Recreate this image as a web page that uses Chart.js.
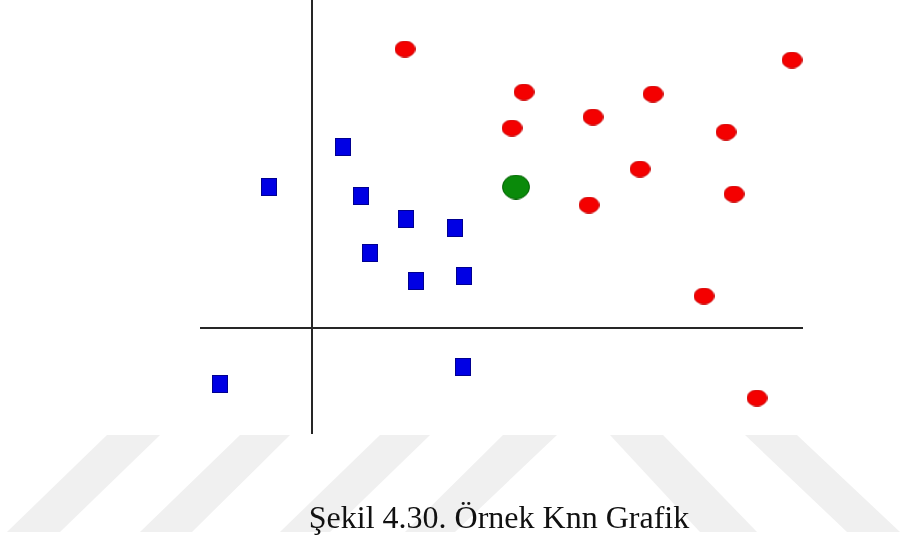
<!DOCTYPE html>
<html>
<head>
<meta charset="utf-8">
<script src="https://cdn.jsdelivr.net/npm/chart.js@4"></script>
<style>
  body { margin: 0; background: #fff; }
  #wrap { position: relative; width: 901px; height: 540px; overflow: hidden; }
  #bg { position: absolute; left: 0; top: 0; }
  #myChart { position: absolute; left: 0; top: 0; }
  #caption {
    position: absolute; left: 0; top: 501px; width: 998px;
    text-align: center; font-family: "Liberation Serif", "DejaVu Serif", serif;
    font-size: 32px; line-height: 32px; color: #111;
  }
</style>
</head>
<body>
<div id="wrap">
  <svg id="bg" width="901" height="540">
    <g fill="#f0f0f0">
      <polygon points="107,435 160,435 60,532 7,532"/>
      <polygon points="240,435 290,435 192,532 140,532"/>
      <polygon points="380,435 430,435 330,532 280,532"/>
      <polygon points="503,435 557,435 455,532 405,532"/>
      <polygon points="610,435 663,435 757,532 700,532"/>
      <polygon points="745,435 797,435 900,532 847,532"/>
    </g>
  </svg>
  <canvas id="myChart" width="901" height="540"></canvas>
  <div id="caption">Şekil 4.30. Örnek Knn Grafik</div>
</div>
<script>
// class A (red), class B (blue), new sample (green)
var redX = [9.3, 48.0, 21.2, 34.1, 20.0, 28.1, 41.4, 32.8, 42.2, 27.7, 39.2, 44.5];
var redY = [27.9, 26.8, 23.6, 23.4, 20.0, 21.1, 19.6, 15.9, 13.4, 12.3, 3.2, -7.0];
var blueX = [3.1, -4.3, 4.9, 9.4, 14.3, 5.8, 10.4, 15.2, -9.2, 15.1];
var blueY = [18.1, 14.1, 13.2, 10.9, 10.0, 7.5, 4.7, 5.2, -5.6, -3.9];
var greenX = [20.4];
var greenY = [14.1];
// the two axis lines
var vAxisX = [0, 0];
var vAxisY = [32.8, -10.6];
var hAxisX = [-11.2, 49.1];
var hAxisY = [0, 0];

function pts(xs, ys) {
  return xs.map(function (x, i) { return {x: x, y: ys[i]}; });
}

function ellipseIcon(w, h, fill, stroke) {
  var c = document.createElement('canvas');
  c.width = w; c.height = h;
  var g = c.getContext('2d');
  g.beginPath();
  g.ellipse(w / 2, h / 2, w / 2 - 0.5, h / 2 - 0.5, 0, 0, Math.PI * 2);
  g.fillStyle = fill; g.fill();
  g.lineWidth = 1; g.strokeStyle = stroke; g.stroke();
  return c;
}

function boxIcon(w, h, fill, stroke) {
  var c = document.createElement('canvas');
  c.width = w; c.height = h;
  var g = c.getContext('2d');
  g.fillStyle = fill; g.fillRect(0, 0, w, h);
  g.lineWidth = 1; g.strokeStyle = stroke; g.strokeRect(0.5, 0.5, w - 1, h - 1);
  return c;
}

var ctx = document.getElementById('myChart').getContext('2d');
var myChart = new Chart(ctx, {
  type: 'scatter',
  data: {
    datasets: [{
        label: 'A',
        data: pts(redX, redY),
        pointStyle: ellipseIcon(21, 17, '#f40000', '#c80000'),
        order: 1
      }, {
        label: 'B',
        data: pts(blueX, blueY),
        pointStyle: boxIcon(16, 18, '#0000e4', '#000090'),
        order: 1
      }, {
        label: 'new',
        data: pts(greenX, greenY),
        pointStyle: ellipseIcon(28, 25, '#0a8a0a', '#046004'),
        order: 1
      }, {
        type: 'line',
        data: pts(vAxisX, vAxisY),
        borderColor: '#262626',
        borderWidth: 2,
        pointRadius: 0,
        order: 2
      }, {
        type: 'line',
        data: pts(hAxisX, hAxisY),
        borderColor: '#262626',
        borderWidth: 2,
        pointRadius: 0,
        order: 2
      }
    ]
  },
  options: {
    responsive: false,
    animation: false,
    layout: { padding: 0, autoPadding: false },
    plugins: {
      legend: { display: false },
      tooltip: { enabled: false }
    },
    scales: {
      x: { type: 'linear', min: -31.2, max: 58.9, display: false },
      y: { type: 'linear', min: -21.2, max: 32.8, display: false }
    }
  }
});
</script>
</body>
</html>
